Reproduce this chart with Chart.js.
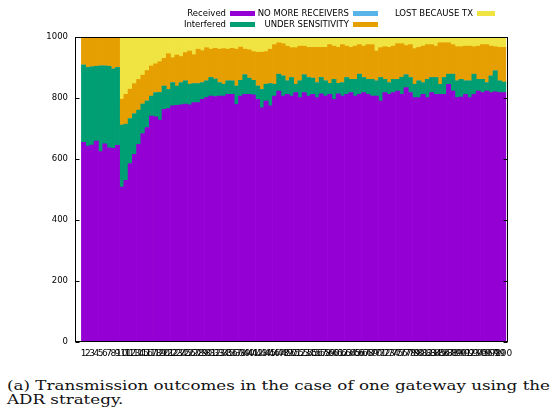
<!DOCTYPE html>
<html>
<head>
<meta charset="utf-8">
<script src="https://cdn.jsdelivr.net/npm/chart.js@4.4.0/dist/chart.umd.min.js"></script>
<style>
  html, body { margin: 0; padding: 0; background: #fff; }
  body { width: 553px; height: 417px; position: relative; overflow: hidden; }
  #chart { position: absolute; left: 0; top: 0; }
  #caption { position: absolute; left: 7px; top: 379px; font: 12.5px "DejaVu Serif"; line-height: 14px; color: #111; white-space: nowrap; transform-origin: 0 0; }
</style>
</head>
<body>
<canvas id="chart" width="553" height="362"></canvas>
<div id="caption"><span id="line1">(a) Transmission outcomes in the case of one gateway using the</span><br>ADR strategy.</div>
<script>
// x categories (bar index)
const categories = [
  1, 2, 3, 4, 5, 6, 7, 8, 9, 10, 11, 12, 13, 14, 15, 16, 17, 18, 19, 20,
  21, 22, 23, 24, 25, 26, 27, 28, 29, 30, 31, 32, 33, 34, 35, 36, 37, 38, 39, 40,
  41, 42, 43, 44, 45, 46, 47, 48, 49, 50, 51, 52, 53, 54, 55, 56, 57, 58, 59, 60,
  61, 62, 63, 64, 65, 66, 67, 68, 69, 70, 71, 72, 73, 74, 75, 76, 77, 78, 79, 80,
  81, 82, 83, 84, 85, 86, 87, 88, 89, 90, 91, 92, 93, 94, 95, 96, 97, 98, 99, 100
];
const yTicks = [0, 200, 400, 600, 800, 1000];

const received = [
  655, 642, 646, 659, 624, 650, 637, 635, 645, 508, 530, 585, 615, 648, 683, 703, 741, 738, 728, 763,
  765, 774, 776, 778, 780, 778, 785, 785, 796, 801, 806, 805, 806, 806, 812, 812, 779, 806, 812, 812,
  810, 796, 768, 790, 774, 806, 823, 806, 812, 806, 818, 801, 818, 806, 812, 801, 814, 806, 812, 796,
  814, 806, 812, 818, 806, 812, 818, 812, 806, 806, 790, 818, 812, 818, 823, 812, 834, 818, 801, 801,
  812, 801, 818, 812, 812, 812, 845, 823, 801, 803, 812, 801, 812, 823, 818, 823, 818, 820, 818, 818
];
const interfered = [
  253, 258, 256, 245, 281, 255, 267, 260, 255, 203, 184, 147, 133, 112, 97, 87, 65, 79, 90, 76,
  63, 76, 63, 72, 76, 67, 62, 62, 54, 55, 61, 57, 44, 39, 44, 44, 60, 52, 64, 53,
  48, 43, 60, 55, 73, 39, 55, 66, 44, 61, 27, 55, 58, 61, 53, 49, 53, 50, 36, 65,
  34, 44, 55, 43, 55, 66, 49, 49, 55, 50, 77, 43, 38, 43, 38, 56, 42, 49, 44, 55,
  38, 60, 49, 55, 33, 55, 33, 55, 55, 58, 44, 55, 66, 38, 43, 27, 54, 69, 38, 34
];
const noMoreReceivers = [
  0, 0, 0, 0, 0, 0, 0, 0, 0, 0, 0, 0, 0, 0, 0, 0, 0, 0, 0, 0,
  0, 0, 0, 0, 0, 0, 0, 0, 0, 0, 0, 0, 0, 0, 0, 0, 0, 0, 0, 0,
  0, 0, 0, 0, 0, 0, 0, 0, 0, 0, 0, 0, 0, 0, 0, 0, 0, 0, 0, 0,
  0, 0, 0, 0, 0, 0, 0, 0, 0, 0, 0, 0, 0, 0, 0, 0, 0, 0, 0, 0,
  0, 0, 0, 0, 0, 0, 0, 0, 0, 0, 0, 0, 0, 0, 0, 0, 0, 0, 0, 0
];
const underSensitivity = [
  92, 100, 98, 96, 95, 95, 96, 105, 100, 85, 98, 97, 99, 101, 95, 100, 99, 95, 101, 91,
  117, 82, 102, 86, 93, 109, 95, 113, 105, 109, 93, 101, 110, 117, 104, 107, 121, 109, 84, 93,
  94, 111, 122, 107, 113, 130, 103, 106, 114, 98, 120, 114, 94, 99, 101, 116, 99, 110, 127, 109,
  118, 125, 103, 105, 109, 97, 103, 114, 114, 98, 98, 107, 116, 109, 117, 110, 96, 108, 117, 110,
  120, 114, 108, 103, 136, 114, 103, 97, 112, 107, 114, 114, 90, 109, 114, 125, 98, 79, 110, 114
];
const lostBecauseTx = [
  0, 0, 0, 0, 0, 0, 0, 0, 0, 204, 188, 171, 153, 139, 125, 110, 95, 88, 81, 70,
  55, 68, 59, 64, 51, 46, 58, 40, 45, 35, 40, 37, 40, 38, 40, 37, 40, 33, 40, 42,
  48, 50, 50, 48, 40, 25, 19, 22, 30, 35, 35, 30, 30, 34, 34, 34, 34, 34, 25, 30,
  34, 25, 30, 34, 30, 25, 30, 25, 25, 46, 35, 32, 34, 30, 22, 22, 28, 25, 38, 34,
  30, 25, 25, 30, 19, 19, 19, 25, 32, 32, 30, 30, 32, 30, 25, 25, 30, 32, 34, 34
];

const seriesNames = ['Received', 'Interfered', 'NO MORE RECEIVERS', 'UNDER SENSITIVITY', 'LOST BECAUSE TX'];
const seriesColors = ['#9400d3', '#009e73', '#56b4e9', '#e69f00', '#f0e442'];
const seriesData = [received, interfered, noMoreReceivers, underSensitivity, lostBecauseTx];

const FONT = 'DejaVu Sans';

// gnuplot style key: text right aligned, swatch after it, filled column by column
const keyPlugin = {
  id: 'key',
  afterDraw(chart) {
    const ctx = chart.ctx;
    const textRight = [226, 349, 473];
    const rows = [13.5, 24.5];
    ctx.save();
    ctx.font = '8.5px "' + FONT + '"';
    ctx.textAlign = 'right';
    ctx.textBaseline = 'middle';
    chart.data.datasets.forEach((ds, i) => {
      const col = Math.floor(i / 2);
      const row = i % 2;
      const x = textRight[col];
      const y = rows[row];
      ctx.fillStyle = '#000';
      ctx.fillText(ds.label, x, y);
      ctx.fillStyle = ds.backgroundColor;
      const w = col === 2 ? 18 : 25;
      ctx.fillRect(x + 4, y - 2.5, w, 5);
    });
    ctx.restore();
  }
};

// plot border with inward tics on both y sides
const framePlugin = {
  id: 'frame',
  afterDatasetsDraw(chart) {
    const { ctx, chartArea: a } = chart;
    const y = chart.scales.y;
    const l = Math.round(a.left) + 0.5, r = Math.round(a.right) - 0.5;
    const t = Math.round(a.top) + 0.5, b = Math.round(a.bottom) - 0.5;
    ctx.save();
    ctx.strokeStyle = '#000';
    ctx.lineWidth = 1;
    ctx.beginPath();
    yTicks.forEach(v => {
      const py = Math.round(y.getPixelForValue(v)) + 0.5;
      ctx.moveTo(l, py); ctx.lineTo(l + 4, py);
      ctx.moveTo(r, py); ctx.lineTo(r - 4, py);
    });
    ctx.stroke();
    ctx.strokeRect(l, t, r - l, b - t);
    ctx.restore();
  }
};

new Chart(document.getElementById('chart'), {
  type: 'bar',
  data: {
    labels: categories,
    datasets: seriesData.map((d, i) => ({
      label: seriesNames[i],
      data: d,
      backgroundColor: seriesColors[i],
      borderWidth: 0,
      barPercentage: 1,
      categoryPercentage: 1
    }))
  },
  options: {
    responsive: false,
    animation: false,
    events: [],
    layout: { padding: { top: 37, right: 45, left: 0, bottom: 0 } },
    plugins: { legend: { display: false }, tooltip: { enabled: false } },
    scales: {
      x: {
        type: 'linear',
        stacked: true,
        min: -0.5,
        max: 100.5,
        grid: { display: false, drawTicks: false },
        border: { display: false },
        afterBuildTicks: s => { s.ticks = categories.map(v => ({ value: v })); },
        afterFit: s => { s.height = 20; },
        ticks: {
          autoSkip: false, maxRotation: 0, minRotation: 0, padding: 6,
          color: '#000', font: { family: FONT, size: 9 },
          callback: v => String(v)
        }
      },
      y: {
        stacked: true,
        min: 0,
        max: 1000,
        grid: { display: false, drawTicks: false },
        border: { display: false },
        afterBuildTicks: s => { s.ticks = yTicks.map(v => ({ value: v })); },
        afterFit: s => { s.width = 75; },
        ticks: {
          padding: 7, color: '#000', font: { family: FONT, size: 8.5 },
          callback: v => String(v)
        }
      }
    }
  },
  plugins: [keyPlugin, framePlugin]
});

// stretch caption to the width of the reference line
const cap = document.getElementById('caption');
const w1 = document.getElementById('line1').getBoundingClientRect().width;
cap.style.transform = 'scaleX(' + (543 / w1) + ')';
</script>
</body>
</html>
